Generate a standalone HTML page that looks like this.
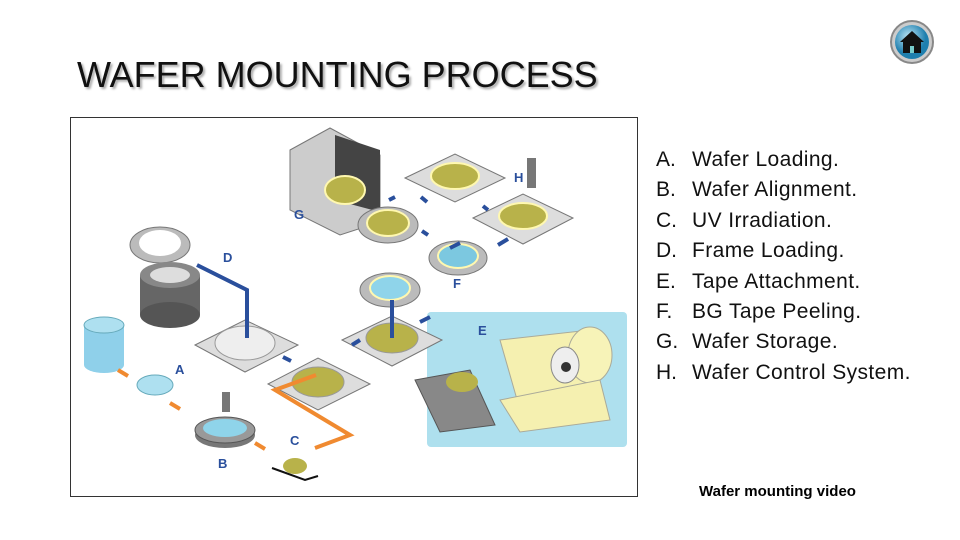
<!DOCTYPE html>
<html><head><style>
body{margin:0;width:960px;height:540px;background:#fff;overflow:hidden;position:relative;font-family:"Liberation Sans",sans-serif}
.t{position:absolute;left:77px;top:54px;font-size:36px;color:#111;text-shadow:2px 2px 2px #aaa;}
.l{position:absolute;left:656px;top:145px;font-size:21px;line-height:30.4px;color:#111;letter-spacing:0.4px}
.l span{display:inline-block;width:36px;letter-spacing:0}
.v{position:absolute;left:699px;top:483px;font-size:15px;color:#000;font-weight:bold}
</style></head><body>
<div class="t">WAFER MOUNTING PROCESS</div>
<svg style="position:absolute;left:0;top:0" width="960" height="540">
<defs><radialGradient id="hb" cx="40%" cy="35%"><stop offset="0" stop-color="#bfe8f8"/><stop offset="1" stop-color="#1f7fae"/></radialGradient></defs>
<circle cx="912" cy="42" r="21" fill="#ccc" stroke="#888" stroke-width="2"/>
<circle cx="912" cy="42" r="17" fill="url(#hb)"/>
<polygon points="900,42 912,31 924,42" fill="#111"/><rect x="903" y="42" width="18" height="11" fill="#111"/><rect x="910" y="46" width="4" height="7" fill="#7cc"/>
<rect x="70.5" y="117.5" width="567" height="379" fill="#fff" stroke="#333"/>
<rect x="427" y="312" width="200" height="135" rx="4" fill="#aee0ee"/>
<polygon points="500,340 590,330 600,380 520,410" fill="#f5f0b0" stroke="#aa9"/>
<ellipse cx="590" cy="355" rx="22" ry="28" fill="#f7f3b8" stroke="#aa9"/>
<ellipse cx="565" cy="365" rx="14" ry="18" fill="#eee" stroke="#888"/><circle cx="566" cy="367" r="5" fill="#333"/>
<polygon points="500,400 600,380 610,420 520,432" fill="#f5f0b0" stroke="#aa9"/>
<polygon points="415,380 470,370 495,425 440,432" fill="#888" stroke="#555"/>
<ellipse cx="462" cy="382" rx="16" ry="10" fill="#b8b24a"/>
<polygon points="290,150 330,128 380,155 380,222 340,235 290,210" fill="#ccc" stroke="#777"/>
<polygon points="335,135 380,150 380,212 335,200" fill="#444"/>
<ellipse cx="345" cy="190" rx="20" ry="14" fill="#b8b24a" stroke="#fff8b0" stroke-width="2"/>
<g stroke="#777" fill="#ddd">
<polygon points="195,345 245,320 298,345 245,372"/>
<polygon points="268,384 318,358 370,384 318,410"/>
<polygon points="342,340 392,316 442,340 392,366"/>
<polygon points="405,178 455,154 505,178 455,202"/>
<polygon points="473,218 523,194 573,218 523,244"/>
</g>
<ellipse cx="245" cy="343" rx="30" ry="17" fill="#eee" stroke="#999"/>
<ellipse cx="318" cy="382" rx="26" ry="15" fill="#b8b24a" stroke="#999"/>
<ellipse cx="392" cy="338" rx="26" ry="15" fill="#b8b24a" stroke="#999"/>
<ellipse cx="455" cy="176" rx="24" ry="13" fill="#b8b24a" stroke="#fff8b0" stroke-width="2"/>
<ellipse cx="523" cy="216" rx="24" ry="13" fill="#b8b24a" stroke="#fff8b0" stroke-width="2"/>
<ellipse cx="388" cy="225" rx="30" ry="18" fill="#bbb" stroke="#777"/><ellipse cx="388" cy="223" rx="21" ry="13" fill="#b8b24a" stroke="#fff8b0" stroke-width="2"/>
<ellipse cx="458" cy="258" rx="29" ry="17" fill="#bbb" stroke="#777"/><ellipse cx="458" cy="256" rx="20" ry="12" fill="#7cc8e0" stroke="#fff8b0" stroke-width="2"/>
<ellipse cx="390" cy="290" rx="30" ry="17" fill="#bbb" stroke="#777"/><ellipse cx="390" cy="288" rx="20" ry="12" fill="#8fd4ea" stroke="#fff8b0" stroke-width="2"/>
<ellipse cx="160" cy="245" rx="30" ry="18" fill="#bbb" stroke="#777"/><ellipse cx="160" cy="243" rx="21" ry="13" fill="#fff"/>
<rect x="140" y="275" width="60" height="40" fill="#666"/><ellipse cx="170" cy="275" rx="30" ry="13" fill="#888"/><ellipse cx="170" cy="275" rx="20" ry="8" fill="#ddd"/><ellipse cx="170" cy="315" rx="30" ry="13" fill="#555"/>
<rect x="84" y="325" width="40" height="40" fill="#8fd0ea"/><ellipse cx="104" cy="325" rx="20" ry="8" fill="#aee0f0" stroke="#6ab"/><ellipse cx="104" cy="365" rx="20" ry="8" fill="#8fd0ea"/>
<ellipse cx="155" cy="385" rx="18" ry="10" fill="#aee0f0" stroke="#6ab"/>
<ellipse cx="225" cy="435" rx="30" ry="13" fill="#777"/><ellipse cx="225" cy="430" rx="30" ry="13" fill="#999" stroke="#555"/><ellipse cx="225" cy="428" rx="22" ry="9" fill="#8fd4ea"/>
<rect x="222" y="392" width="8" height="20" fill="#777"/><rect x="527" y="158" width="9" height="30" fill="#777"/>
<ellipse cx="295" cy="466" rx="12" ry="8" fill="#b8b24a"/><path d="M272,468 L305,480 L318,476" stroke="#111" stroke-width="2" fill="none"/>
<g stroke="#2a4f9c" stroke-width="4" fill="none"><path d="M197,265 L247,290 L247,338"/><path d="M392,338 V300"/><path d="M283,357 l8,4"/><path d="M352,345 l8,-5"/><path d="M420,322 l10,-5"/><path d="M450,248 l10,-5"/><path d="M428,235 l-6,-4"/><path d="M498,245 l10,-6"/><path d="M488,210 l-5,-4"/><path d="M427,202 l-6,-5"/><path d="M395,197 l-6,3"/></g>
<g stroke="#f08a30" stroke-width="4" fill="none"><path d="M118,370 l10,6"/><path d="M170,403 l10,6"/><path d="M255,443 l10,6"/><path d="M316,375 L275,390 L350,435 L315,448"/></g>
<g font-family="Liberation Sans" font-weight="bold" fill="#2a4f9c" font-size="13"><text x="223" y="262">D</text><text x="175" y="374">A</text><text x="218" y="468">B</text><text x="290" y="445">C</text><text x="294" y="219">G</text><text x="514" y="182">H</text><text x="453" y="288">F</text><text x="478" y="335">E</text></g>
</svg>
<div class="l"><span>A.</span>Wafer Loading.<br><span>B.</span>Wafer Alignment.<br><span>C.</span>UV Irradiation.<br><span>D.</span>Frame Loading.<br><span>E.</span>Tape Attachment.<br><span>F.</span>BG Tape Peeling.<br><span>G.</span>Wafer Storage.<br><span>H.</span>Wafer Control System.</div>
<div class="v">Wafer mounting video</div>
</body></html>
